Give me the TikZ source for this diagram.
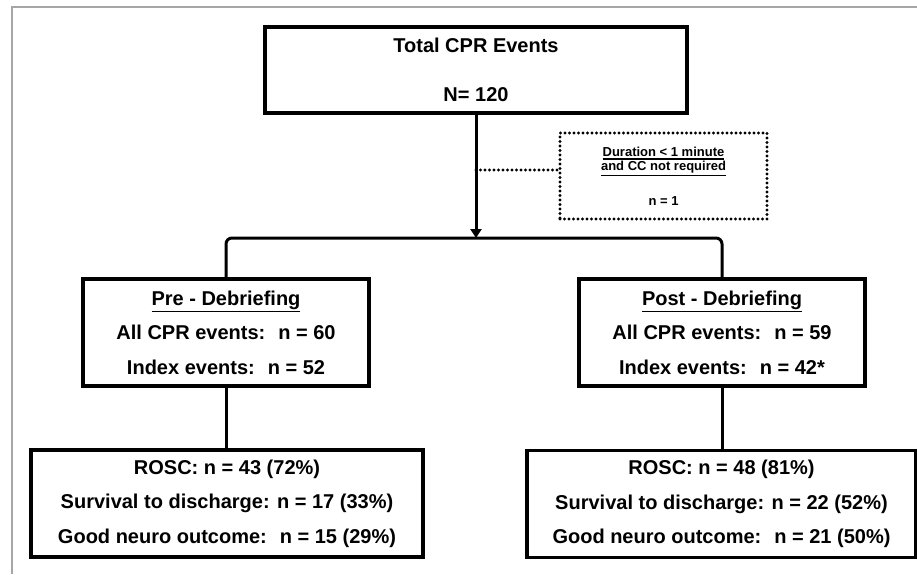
\documentclass[tikz,border=0pt]{standalone}
\usepackage{fontspec}
\setmainfont{Liberation Sans}
\newcommand{\ulined}[1]{\leavevmode\vtop{\hbox{#1}\kern1.6pt\hrule height 1.4pt}}
\usetikzlibrary{arrows, arrows.meta}
\usetikzlibrary{calc}

\begin{document}
\begin{tikzpicture}[x=1pt, y=-1pt,
    box/.style={draw, line width=3.4pt, inner sep=0pt, align=center},
    dotbox/.style={draw, line width=3.1pt, dash pattern=on 0pt off 4.5pt, line cap=round, inner sep=0pt, align=center},
    link/.style={line width=3pt},
    dotlink/.style={line width=3.1pt, dash pattern=on 0pt off 4.5pt, line cap=round},
    bigtext/.style={font=\bfseries\fontsize{20}{34.5}\selectfont}]
      \useasboundingbox (0,0) rectangle (917,574);
      \draw[black!35, line width=1.6pt] (12,574) -- (12,7) -- (917,7);

      \node[box, minimum width=422pt, minimum height=86pt, font=\bfseries\fontsize{20}{49}\selectfont] (total) at (476,70) {Total CPR Events\\N= 120};
      \node[dotbox, minimum width=207pt, minimum height=86pt, font=\bfseries\fontsize{13}{14}\selectfont] (excl) at (663.5,176) {\ulined{Duration < 1 minute}\\\ulined{and CC not required}\\[19pt]n = 1};
      \node[box, bigtext, minimum width=286pt, minimum height=107pt] (pre) at (226,332.5) {\ulined{Pre - Debriefing}\\All CPR events:~ n = 60\\Index events:~ n = 52};
      \node[box, bigtext, minimum width=286pt, minimum height=107pt] (post) at (722,332.5) {\ulined{Post - Debriefing}\\All CPR events:~ n = 59\\Index events:~ n = 42*};
      \node[box, bigtext, minimum width=392pt, minimum height=107pt] (preout) at (227,503.5) {ROSC: n = 43 (72\%)\\Survival to discharge: n = 17 (33\%)\\Good neuro outcome:~ n = 15 (29\%)};
      \node[box, bigtext, minimum width=389pt, minimum height=107pt] (postout) at (721.5,504) {ROSC: n = 48 (81\%)\\Survival to discharge: n = 22 (52\%)\\Good neuro outcome:~ n = 21 (50\%)};

      \coordinate (split) at (476,238);
      \coordinate (tap) at (476,170);

      \draw[link, -{Triangle[length=9pt, width=11pt]}] (total) -- (split);
      \draw[dotlink] (tap) -- (tap -| excl.west);
      \draw[link, rounded corners=6pt] (pre.north) |- (split) -| (post.north);
      \draw[link] (pre.south) -- (pre.south |- preout.north);
      \draw[link] (post.south) -- (post.south |- postout.north);
    \end{tikzpicture}
\end{document}
